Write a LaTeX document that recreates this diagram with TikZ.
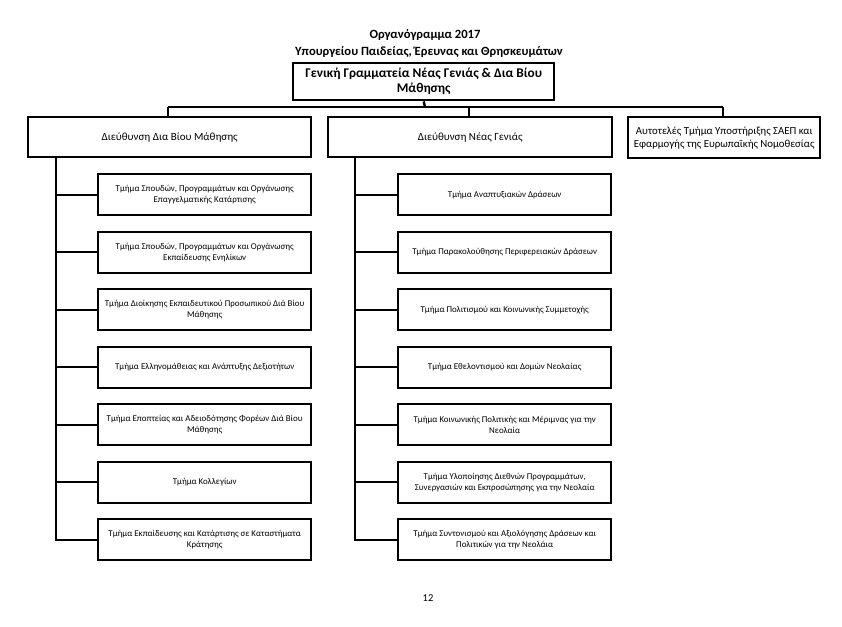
\documentclass[tikz,border=0pt]{standalone}
\usepackage{fontspec}
\setmainfont{Carlito}
\begin{document}
\begin{tikzpicture}[x=1pt,y=-1pt,
  box/.style={draw=black,line width=2.4pt,fill=white,anchor=north west,inner sep=0pt,align=center},
  topbox/.style={box,minimum width=261pt,minimum height=37pt,font=\fontsize{13.3}{15}\selectfont\bfseries},
  dirbox/.style={box,minimum height=40pt,font=\fontsize{11}{13}\selectfont},
  subbox/.style={box,minimum width=213pt,minimum height=41pt,font=\fontsize{8.9}{11}\selectfont},
  conn/.style={line width=2.4pt}]
\useasboundingbox (0,0) rectangle (842,626);
\fill[white] (0,0) rectangle (842,626);
\node[font=\fontsize{12.6}{14}\selectfont\bfseries] (t1) at (425,35) {Οργανόγραμμα 2017};
\node[font=\fontsize{12.6}{14}\selectfont\bfseries] (t2) at (429,52) {Υπουργείου Παιδείας, Έρευνας και Θρησκευμάτων};
\node[topbox] (top) at (292,62) {Γενική Γραμματεία Νέας Γενιάς \& Δια Βίου\\Μάθησης};
\node[dirbox,minimum width=283pt] (dl) at (27,116) {Διεύθυνση Δια Βίου Μάθησης};
\node[dirbox,minimum width=284pt] (dm) at (327,116) {Διεύθυνση Νέας Γενιάς};
\node[dirbox,minimum width=192pt,minimum height=41pt,font=\fontsize{10.8}{13}\selectfont] (dr) at (627,116) {Αυτοτελές Τμήμα Υποστήριξης ΣΑΕΠ και\\Εφαρμογής της Ευρωπαϊκής Νομοθεσίας};
\coordinate (bus) at (425,107);
\coordinate (bl) at (168,107);
\coordinate (bm) at (469,107);
\coordinate (br) at (723,107);
\draw[conn] (top.south) -- (bus);
\draw[conn] (bl) -- (br);
\draw[conn] (bl) -- (bl |- dl.north);
\draw[conn] (bm) -- (bm |- dm.north);
\draw[conn] (br) -- (br |- dr.north);
\foreach \i/\t in {1/{Τμήμα Σπουδών, Προγραμμάτων και Οργάνωσης\\Επαγγελματικής Κατάρτισης},
  2/{Τμήμα Σπουδών, Προγραμμάτων και Οργάνωσης\\Εκπαίδευσης Ενηλίκων},
  3/{Τμήμα Διοίκησης Εκπαιδευτικού Προσωπικού Διά Βίου\\Μάθησης},
  4/{Τμήμα Ελληνομάθειας και Ανάπτυξης Δεξιοτήτων},
  5/{Τμήμα Εποπτείας και Αδειοδότησης Φορέων Διά Βίου\\Μάθησης},
  6/{Τμήμα Κολλεγίων},
  7/{Τμήμα Εκπαίδευσης και Κατάρτισης σε Καταστήματα\\Κράτησης}}{
  \node[subbox] (l\i) at (97,{173+57.5*(\i-1)}) {\t};
}
\foreach \i/\t in {1/{Τμήμα Αναπτυξιακών Δράσεων},
  2/{Τμήμα Παρακολούθησης Περιφερειακών Δράσεων},
  3/{Τμήμα Πολιτισμού και Κοινωνικής Συμμετοχής},
  4/{Τμήμα Εθελοντισμού και Δομών Νεολαίας},
  5/{Τμήμα Κοινωνικής Πολιτικής και Μέριμνας για την\\Νεολαία},
  6/{Τμήμα Υλοποίησης Διεθνών Προγραμμάτων,\\Συνεργασιών και Εκπροσώπησης για την Νεολαία},
  7/{Τμήμα Συντονισμού και Αξιολόγησης Δράσεων και\\Πολιτικών για την Νεολάια}}{
  \node[subbox] (r\i) at (397,{173+57.5*(\i-1)}) {\t};
}
\coordinate (tl) at (56,156);
\coordinate (tm) at (355,156);
\draw[conn] (tl) -- (tl |- l7.west) -- (l7.west);
\draw[conn] (tm) -- (tm |- r7.west) -- (r7.west);
\foreach \i in {1,...,6}{
  \draw[conn] (tl |- l\i.west) -- (l\i.west);
  \draw[conn] (tm |- r\i.west) -- (r\i.west);
}
\node[font=\fontsize{10.5}{12}\selectfont] (pg) at (428,598) {12};
\end{tikzpicture}
\end{document}
